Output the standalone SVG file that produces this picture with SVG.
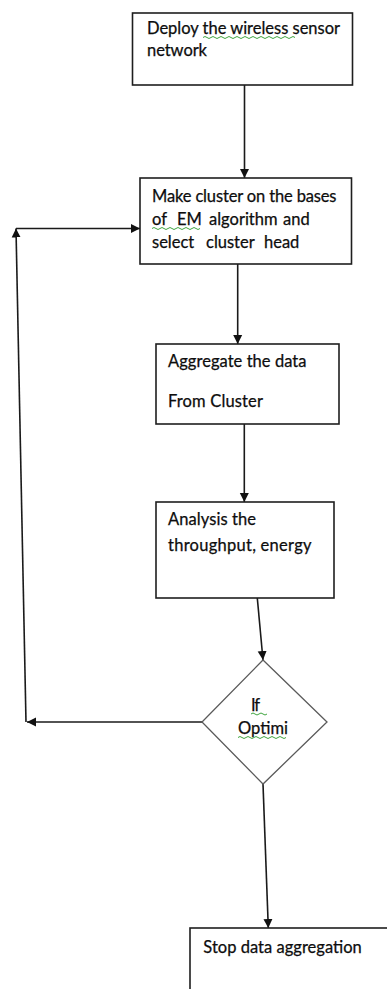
<svg xmlns="http://www.w3.org/2000/svg" width="387" height="989" viewBox="0 0 387 989">
<style>
.box{fill:#fff;stroke:#1e1e1e;stroke-width:1.6}
.dia{fill:#fff;stroke:#5a5a5a;stroke-width:1.3}
.t{font-family:Lato,"Open Sans","Liberation Sans",sans-serif;font-size:16.5px;fill:#0d0d0d;stroke:#0d0d0d;stroke-width:0.25}
.edge{fill:none;stroke:#1a1a1a;stroke-width:1.6}
.sq{fill:none;stroke:#3fa53f;stroke-width:1}
</style>
<defs>
<marker id="ah" markerUnits="userSpaceOnUse" markerWidth="10" markerHeight="10" refX="9" refY="5" orient="auto">
<path d="M0,0.5 L9,5 L0,9.5 z" fill="#111"/>
</marker>
</defs>
<rect width="387" height="989" fill="#fff"/>
<g id="connectors">
<line class="edge" x1="244.5" y1="85" x2="244.5" y2="178" marker-end="url(#ah)"/>
<line class="edge" x1="237.7" y1="264" x2="237.7" y2="344" marker-end="url(#ah)"/>
<line class="edge" x1="244.3" y1="424" x2="244.3" y2="502" marker-end="url(#ah)"/>
<line class="edge" x1="257.3" y1="598" x2="263" y2="660" marker-end="url(#ah)"/>
<line class="edge" x1="263" y1="784" x2="268.3" y2="928" marker-end="url(#ah)"/>
<line class="edge" x1="202" y1="722" x2="27" y2="722" marker-end="url(#ah)"/>
<line class="edge" x1="26" y1="722" x2="16" y2="228.5" marker-end="url(#ah)"/>
<line class="edge" x1="16" y1="228.5" x2="140" y2="228.5" marker-end="url(#ah)"/>
</g>
<g id="n1">
<rect class="box" x="132.5" y="13" width="220" height="72"/>
<text class="t" x="147" y="34" textLength="193">Deploy the wireless sensor</text>
<text class="t" x="147" y="56" textLength="60">network</text>
<path class="sq" d="M203,37.5 q2,-2 4,0 t4,0 t4,0 t4,0 t4,0 t4,0 t4,0 t4,0 t4,0 t4,0 t4,0 t4,0 t4,0 t4,0 t4,0 t4,0 t4,0 t4,0 t4,0 t4,0 t4,0 t4,0 t4,0"/>
</g>
<g id="n2">
<rect class="box" x="140" y="178" width="211.5" height="86"/>
<text class="t" x="152" y="201.5" textLength="184.5">Make cluster on the bases</text>
<text class="t" y="225"><tspan x="152">of</tspan><tspan x="177">EM</tspan><tspan x="209">algorithm</tspan><tspan x="283">and</tspan></text>
<text class="t" y="248"><tspan x="152">select</tspan><tspan x="206">cluster</tspan><tspan x="264">head</tspan></text>
<path class="sq" d="M152,228.5 q2,-2 4,0 t4,0 t4,0 t4,0 t4,0 t4,0 t4,0 t4,0 t4,0 t4,0 t4,0 t4,0"/>
</g>
<g id="n3">
<rect class="box" x="156" y="344" width="183" height="80"/>
<text class="t" x="168" y="367" textLength="138.5">Aggregate the data</text>
<text class="t" x="168" y="407" textLength="95">From Cluster</text>
</g>
<g id="n4">
<rect class="box" x="156" y="502" width="178" height="96"/>
<text class="t" x="168" y="525" textLength="88">Analysis the</text>
<text class="t" x="168" y="551" textLength="143.5">throughput, energy</text>
</g>
<g id="n5">
<polygon class="dia" points="263,660 327,722 263,784 202,722"/>
<text class="t" x="251" y="711" textLength="9">If</text>
<text class="t" x="238" y="734" textLength="50">Optimi</text>
<path class="sq" d="M251,714 q2,-2 4,0 t4,0 t4,0 t4,0"/>
<path class="sq" d="M238,737.5 q2,-2 4,0 t4,0 t4,0 t4,0 t4,0 t4,0 t4,0 t4,0 t4,0 t4,0 t4,0 t4,0"/>
</g>
<g id="n6">
<rect class="box" x="190" y="928" width="220" height="80"/>
<text class="t" x="203.3" y="952.5" textLength="158.5">Stop data aggregation</text>
</g>
</svg>
